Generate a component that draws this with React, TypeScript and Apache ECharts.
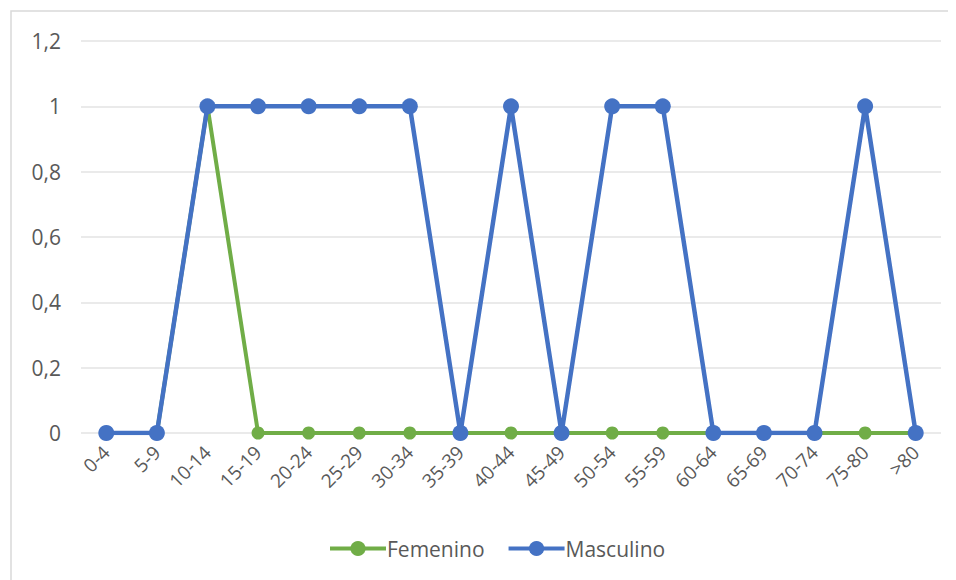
import React, { useEffect, useRef } from "react";
import * as echarts from "echarts";

const categories = ["0-4", "5-9", "10-14", "15-19", "20-24", "25-29", "30-34", "35-39", "40-44", "45-49", "50-54", "55-59", "60-64", "65-69", "70-74", "75-80", ">80"];
const femenino = [0, 0, 1, 0, 0, 0, 0, 0, 0, 0, 0, 0, 0, 0, 0, 0, 0];
const masculino = [0, 0, 1, 1, 1, 1, 1, 0, 1, 0, 1, 1, 0, 0, 0, 1, 0];
const yTicks = { min: 0, max: 1.2, interval: 0.2 };

const FONT = "'Open Sans', 'Noto Sans', sans-serif";
const TEXT = "#595959";

export default function App() {
  const ref = useRef<HTMLDivElement>(null);
  useEffect(() => {
    if (!ref.current) return;
    const chart = echarts.init(ref.current, null, { renderer: "svg" });
    chart.setOption({
      animation: false,
      backgroundColor: "#ffffff",
      graphic: [
        {
          type: "rect",
          shape: { x: 3, y: 3, width: 960, height: 580 },
          style: { fill: "none", stroke: "#d9d9d9", lineWidth: 1.5 },
          silent: true,
        },
      ],
      grid: { left: 73, right: 15, top: 33, bottom: 147, containLabel: false },
      xAxis: {
        type: "category",
        data: categories,
        boundaryGap: true,
        axisLine: { show: false },
        axisTick: { show: false },
        axisLabel: { rotate: 45, color: TEXT, fontFamily: FONT, fontSize: 19, margin: 16, interval: 0 },
      },
      yAxis: {
        type: "value",
        min: yTicks.min,
        max: yTicks.max,
        interval: yTicks.interval,
        axisLine: { show: false },
        axisTick: { show: false },
        splitLine: { lineStyle: { color: "#e3e3e3", width: 1.5 } },
        axisLabel: {
          color: TEXT,
          fontFamily: FONT,
          fontSize: 21,
          margin: 20,
          formatter: (v: number) => String(Math.round(v * 10) / 10).replace(".", ","),
        },
      },
      legend: {
        top: 525,
        left: 315,
        itemWidth: 56,
        itemHeight: 19,
        itemGap: 22,
        lineStyle: { width: 4 },
        textStyle: { color: TEXT, fontFamily: FONT, fontSize: 21, padding: [0, 0, 0, -4] },
        data: ["Femenino", "Masculino"],
      },
      series: [
        {
          name: "Femenino",
          type: "line",
          data: femenino,
          color: "#70AD47",
          symbol: "circle",
          symbolSize: 13,
          lineStyle: { width: 4, color: "#70AD47" },
          itemStyle: { color: "#70AD47" },
        },
        {
          name: "Masculino",
          type: "line",
          data: masculino,
          color: "#4472C4",
          symbol: "circle",
          symbolSize: 16,
          lineStyle: { width: 4.5, color: "#4472C4" },
          itemStyle: { color: "#4472C4" },
        },
      ],
    });
    return () => chart.dispose();
  }, []);
  return <div ref={ref} style={{ width: 948, height: 572 }} />;
}
